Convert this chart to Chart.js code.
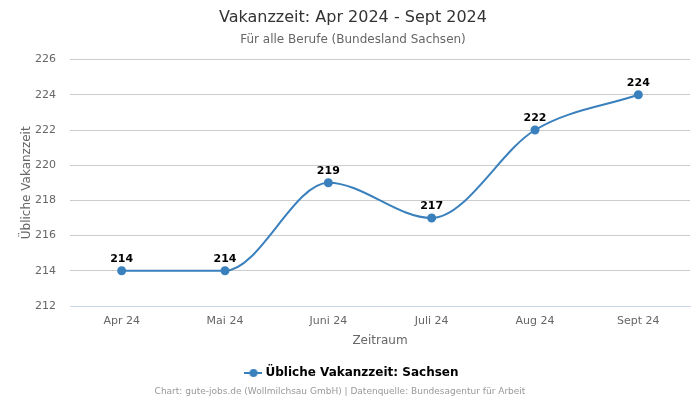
<!DOCTYPE html>
<html>
<head>
<meta charset="utf-8">
<script src="https://cdn.jsdelivr.net/npm/chart.js@4"></script>
<style>
  html, body { margin: 0; padding: 0; background: #fff; }
  #wrap { width: 700px; height: 400px; }
</style>
</head>
<body>
<div id="wrap"><canvas id="vakanzChart" width="700" height="400"></canvas></div>
<script>
const months = ["Apr 24", "Mai 24", "Juni 24", "Juli 24", "Aug 24", "Sept 24"];
const vakanzSachsen = [214, 214, 219, 217, 222, 224];
const yTicks = [212, 214, 216, 218, 220, 222, 224, 226];

const lineColor = "#3a80bd";
const fontName = "'DejaVu Sans', sans-serif";

// legend symbol: short line with a dot
const legendIcon = document.createElement("canvas");
legendIcon.width = 18;
legendIcon.height = 10;
const ic = legendIcon.getContext("2d");
ic.strokeStyle = lineColor;
ic.lineWidth = 2;
ic.beginPath();
ic.moveTo(0, 5);
ic.lineTo(18, 5);
ic.stroke();
ic.fillStyle = lineColor;
ic.beginPath();
ic.arc(9, 5, 4, 0, Math.PI * 2);
ic.fill();

const pointLabels = {
  id: "pointLabels",
  afterDatasetsDraw(chart) {
    const ctx = chart.ctx;
    const meta = chart.getDatasetMeta(0);
    ctx.save();
    ctx.font = "bold 11px " + fontName;
    ctx.fillStyle = "#000";
    ctx.textAlign = "center";
    ctx.textBaseline = "bottom";
    meta.data.forEach(function (pt, i) {
      ctx.fillText(vakanzSachsen[i], pt.x, pt.y - 6);
    });
    ctx.restore();
  }
};

const footer = {
  id: "footer",
  afterDraw(chart) {
    const ctx = chart.ctx;
    ctx.save();
    ctx.font = "9px " + fontName;
    ctx.fillStyle = "#999";
    ctx.textAlign = "center";
    ctx.textBaseline = "middle";
    ctx.fillText("Chart: gute-jobs.de (Wollmilchsau GmbH) | Datenquelle: Bundesagentur für Arbeit", 340, 392);
    ctx.restore();
  }
};

new Chart("vakanzChart", {
  type: "line",
  data: {
    labels: months,
    datasets: [
      {
        label: "Übliche Vakanzzeit: Sachsen",
        data: vakanzSachsen,
        borderColor: lineColor,
        backgroundColor: lineColor,
        borderWidth: 2,
        pointRadius: 3.5,
        pointHoverRadius: 3.5,
        pointBackgroundColor: lineColor,
        pointBorderColor: lineColor,
        cubicInterpolationMode: "monotone",
        fill: false
      }
    ]
  },
  options: {
    responsive: false,
    animation: false,
    devicePixelRatio: 1,
    layout: { padding: { left: 16, right: 10, top: 0, bottom: 11 } },
    plugins: {
      title: {
        display: true,
        text: "Vakanzzeit: Apr 2024 - Sept 2024",
        color: "#333",
        font: { family: fontName, size: 16, weight: "normal" },
        padding: { top: 8, bottom: 3 }
      },
      subtitle: {
        display: true,
        text: "Für alle Berufe (Bundesland Sachsen)",
        color: "#666",
        font: { family: fontName, size: 12, weight: "normal" },
        padding: { top: 2, bottom: 13 }
      },
      legend: {
        position: "bottom",
        labels: {
          color: "#333",
          font: { family: fontName, size: 12, weight: "bold" },
          usePointStyle: true,
          generateLabels(chart) {
            return [{
              text: chart.data.datasets[0].label,
              pointStyle: legendIcon,
              fillStyle: lineColor,
              strokeStyle: lineColor,
              lineWidth: 0,
              datasetIndex: 0
            }];
          }
        }
      },
      tooltip: { enabled: false }
    },
    scales: {
      x: {
        offset: true,
        grid: { display: false, drawTicks: false },
        border: { color: "#ccd6eb" },
        afterFit(axis) { axis.height = 51; },
        ticks: { color: "#666", font: { family: fontName, size: 11 }, padding: 9 },
        title: {
          display: true,
          text: "Zeitraum",
          color: "#666",
          font: { family: fontName, size: 12 },
          padding: { top: 4, bottom: 9 }
        }
      },
      y: {
        min: 212,
        max: 226,
        afterBuildTicks(axis) {
          axis.ticks = yTicks.map(function (v) { return { value: v }; });
        },
        afterFit(axis) { axis.width = 54; },
        grid: { color: "#cccccc", drawTicks: false },
        border: { display: false },
        ticks: { color: "#666", font: { family: fontName, size: 11 }, padding: 14 },
        title: {
          display: true,
          text: "Übliche Vakanzzeit",
          color: "#666",
          font: { family: fontName, size: 12 }
        }
      }
    }
  },
  plugins: [pointLabels, footer]
});
</script>
</body>
</html>
